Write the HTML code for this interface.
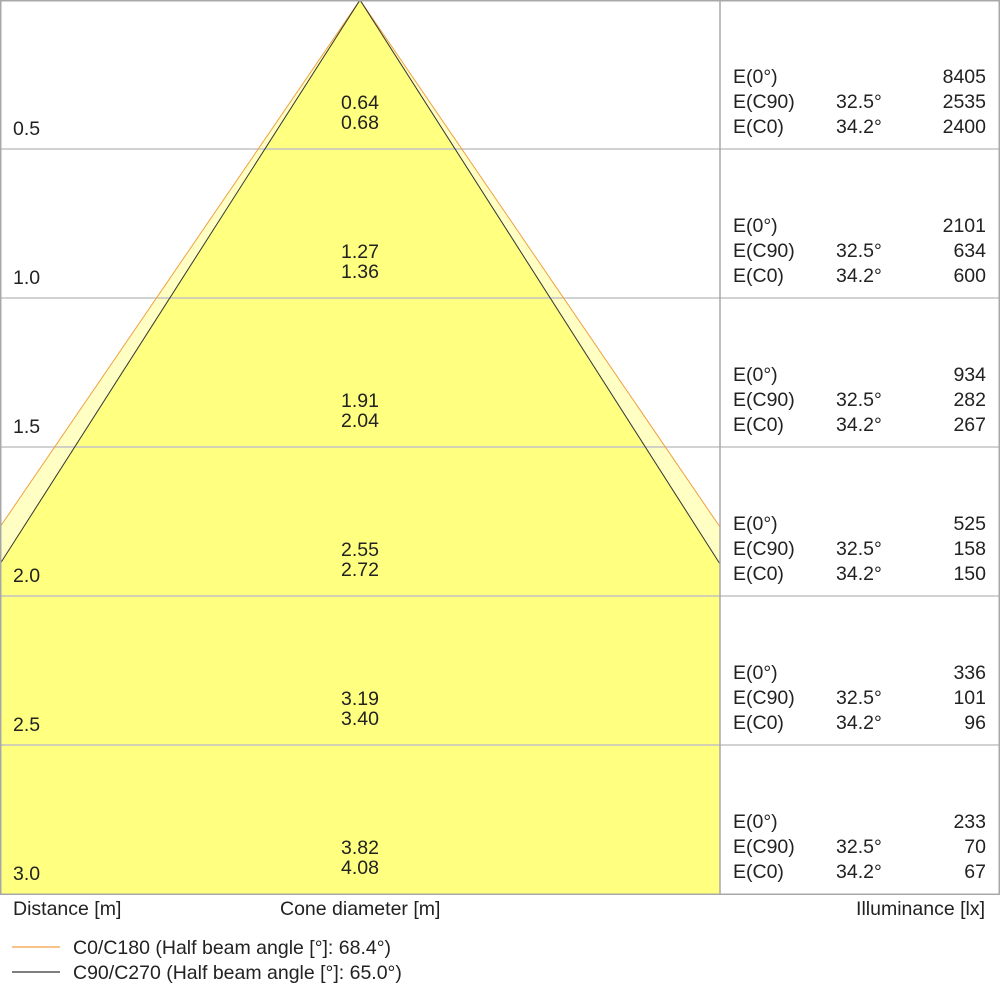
<!DOCTYPE html>
<html><head><meta charset="utf-8"><style>
html,body{margin:0;padding:0;background:#fff;}
svg{display:block;}
text{font-family:"Liberation Sans",sans-serif;font-size:19.5px;fill:#222;}
</style></head><body>
<svg width="1000" height="1000" viewBox="0 0 1000 1000">
<rect x="0" y="0" width="1000" height="1000" fill="#fff"/>
<polygon points="360,0 720,527 720,894 0,894 0,527" fill="#ffffc4"/>
<polygon points="360,0 720,564 720,894 0,894 0,564" fill="#ffff80"/>
<g stroke="#c4c4c4" stroke-width="1.5">
<line x1="0" y1="149" x2="1000" y2="149"/>
<line x1="0" y1="298" x2="1000" y2="298"/>
<line x1="0" y1="447" x2="1000" y2="447"/>
<line x1="0" y1="596" x2="1000" y2="596"/>
<line x1="0" y1="745" x2="1000" y2="745"/>
</g>
<line x1="360" y1="0" x2="0" y2="527" stroke="#f0a040" stroke-width="1"/>
<line x1="360" y1="0" x2="720" y2="527" stroke="#f0a040" stroke-width="1"/>
<line x1="360" y1="0" x2="0" y2="564" stroke="#333" stroke-width="1"/>
<line x1="360" y1="0" x2="720" y2="564" stroke="#333" stroke-width="1"/>
<rect x="0.75" y="0.75" width="998.5" height="893.5" fill="none" stroke="#a8a8a8" stroke-width="1.5"/>
<line x1="720" y1="0" x2="720" y2="894" stroke="#a8a8a8" stroke-width="1.5"/>
<g>
<text x="13" y="135">0.5</text><text x="13" y="284">1.0</text><text x="13" y="433">1.5</text>
<text x="13" y="582">2.0</text><text x="13" y="731">2.5</text><text x="13" y="880">3.0</text>
</g>
<g text-anchor="middle">
<text x="360" y="109">0.64</text><text x="360" y="129">0.68</text>
<text x="360" y="258">1.27</text><text x="360" y="278">1.36</text>
<text x="360" y="407">1.91</text><text x="360" y="427">2.04</text>
<text x="360" y="556">2.55</text><text x="360" y="576">2.72</text>
<text x="360" y="705">3.19</text><text x="360" y="725">3.40</text>
<text x="360" y="854">3.82</text><text x="360" y="874">4.08</text>
</g>
<g id="r0">
<text x="733" y="83">E(0°)</text><text x="733" y="108">E(C90)</text><text x="733" y="133">E(C0)</text>
<text x="836" y="108">32.5°</text><text x="836" y="133">34.2°</text>
</g>
<use href="#r0" y="149"/><use href="#r0" y="298"/><use href="#r0" y="447"/><use href="#r0" y="596"/><use href="#r0" y="745"/>
<g text-anchor="end">
<text x="986" y="83">8405</text><text x="986" y="108">2535</text><text x="986" y="133">2400</text>
<text x="986" y="232">2101</text><text x="986" y="257">634</text><text x="986" y="282">600</text>
<text x="986" y="381">934</text><text x="986" y="406">282</text><text x="986" y="431">267</text>
<text x="986" y="530">525</text><text x="986" y="555">158</text><text x="986" y="580">150</text>
<text x="986" y="679">336</text><text x="986" y="704">101</text><text x="986" y="729">96</text>
<text x="986" y="828">233</text><text x="986" y="853">70</text><text x="986" y="878">67</text>
</g>
<text x="13" y="915">Distance [m]</text>
<text x="280" y="915">Cone diameter [m]</text>
<text x="985" y="915" text-anchor="end">Illuminance [lx]</text>
<line x1="12" y1="947" x2="60" y2="947" stroke="#f0a040" stroke-width="1.2"/>
<line x1="12" y1="972" x2="60" y2="972" stroke="#333" stroke-width="1.2"/>
<text x="73" y="954">C0/C180 (Half beam angle [°]: 68.4°)</text>
<text x="73" y="979">C90/C270 (Half beam angle [°]: 65.0°)</text>
</svg>
</body></html>
